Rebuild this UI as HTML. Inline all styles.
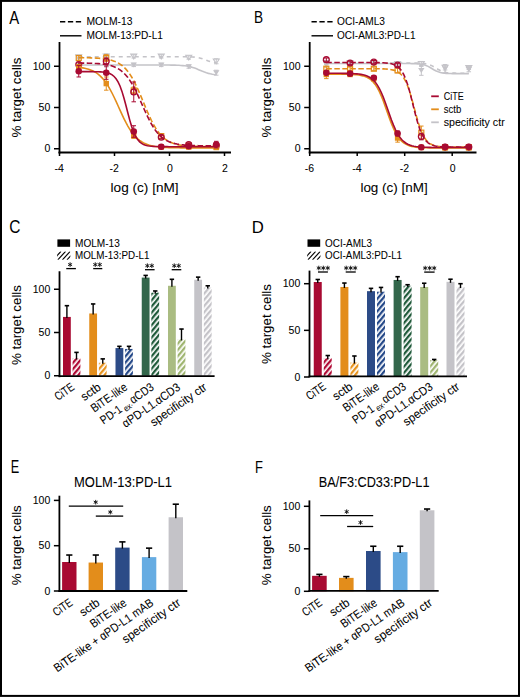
<!DOCTYPE html>
<html><head><meta charset="utf-8"><title>Figure</title>
<style>html,body{margin:0;padding:0;background:#fff;}svg{display:block;font-family:"Liberation Sans",sans-serif;}text{stroke:#000;stroke-width:0.06px;}</style>
</head><body>
<svg width="520" height="697" viewBox="0 0 520 697" font-family="Liberation Sans, sans-serif"><defs><pattern id="hR" patternUnits="userSpaceOnUse" width="4" height="4" patternTransform="rotate(40)"><rect width="4" height="4" fill="#fff"/><rect width="2.3" height="4" fill="#b00a35"/></pattern><pattern id="hO" patternUnits="userSpaceOnUse" width="4" height="4" patternTransform="rotate(40)"><rect width="4" height="4" fill="#fff"/><rect width="2.3" height="4" fill="#e8941f"/></pattern><pattern id="hB" patternUnits="userSpaceOnUse" width="4" height="4" patternTransform="rotate(40)"><rect width="4" height="4" fill="#fff"/><rect width="2.3" height="4" fill="#244888"/></pattern><pattern id="hD" patternUnits="userSpaceOnUse" width="4" height="4" patternTransform="rotate(40)"><rect width="4" height="4" fill="#fff"/><rect width="2.3" height="4" fill="#1f5a3a"/></pattern><pattern id="hL" patternUnits="userSpaceOnUse" width="4" height="4" patternTransform="rotate(40)"><rect width="4" height="4" fill="#fff"/><rect width="2.3" height="4" fill="#9fb570"/></pattern><pattern id="hG" patternUnits="userSpaceOnUse" width="4" height="4" patternTransform="rotate(40)"><rect width="4" height="4" fill="#fff"/><rect width="2.3" height="4" fill="#c4c3c8"/></pattern><pattern id="hK" patternUnits="userSpaceOnUse" width="4" height="4" patternTransform="rotate(40)"><rect width="4" height="4" fill="#fff"/><rect width="2.3" height="4" fill="#000"/></pattern><clipPath id="cl57"><rect x="57.1" y="251.4" width="13.2" height="8.4"/></clipPath><clipPath id="cl307"><rect x="307.2" y="251.4" width="13.2" height="8.4"/></clipPath></defs><rect x="0" y="0" width="520" height="697" fill="#fff"/>
<!--PL A--><text x="0" y="0" font-size="17.5" style="stroke:none" transform="translate(9.20,23.70) scale(0.852,1.016)" dx="0.00">A</text>
<line x1="60" y1="21.8" x2="81.5" y2="21.8" stroke="#000" stroke-width="1.4" stroke-dasharray="5.3,2.6"/>
<line x1="60" y1="35.8" x2="81.5" y2="35.8" stroke="#000" stroke-width="1.4" />
<text x="86.5" y="25.2" font-size="11" textLength="46" lengthAdjust="spacingAndGlyphs" fill="#000" >MOLM-13</text>
<text x="86.5" y="39.3" font-size="11" textLength="76.5" lengthAdjust="spacingAndGlyphs" fill="#000" >MOLM-13:PD-L1</text>
<line x1="59.5" y1="42" x2="59.5" y2="153.4" stroke="#000" stroke-width="1.8" />
<line x1="54.0" y1="66.25" x2="59.5" y2="66.25" stroke="#000" stroke-width="1.5" />
<text x="50.3" y="69.85" font-size="10.5" text-anchor="end" fill="#000" >100</text>
<line x1="54.0" y1="107.5" x2="59.5" y2="107.5" stroke="#000" stroke-width="1.5" />
<text x="50.3" y="111.1" font-size="10.5" text-anchor="end" fill="#000" >50</text>
<line x1="54.0" y1="148.75" x2="59.5" y2="148.75" stroke="#000" stroke-width="1.5" />
<text x="50.3" y="152.35" font-size="10.5" text-anchor="end" fill="#000" >0</text>
<line x1="58.6" y1="152.5" x2="231" y2="152.5" stroke="#000" stroke-width="1.8" />
<line x1="59.5" y1="152" x2="59.5" y2="156" stroke="#000" stroke-width="1.5" />
<text x="59.2" y="171.8" font-size="10.5" text-anchor="middle" fill="#000" >-4</text>
<line x1="114.5" y1="152" x2="114.5" y2="156" stroke="#000" stroke-width="1.5" />
<text x="114.2" y="171.8" font-size="10.5" text-anchor="middle" fill="#000" >-2</text>
<line x1="169.5" y1="152" x2="169.5" y2="156" stroke="#000" stroke-width="1.5" />
<text x="170.0" y="171.8" font-size="10.5" text-anchor="middle" fill="#000" >0</text>
<line x1="224.5" y1="152" x2="224.5" y2="156" stroke="#000" stroke-width="1.5" />
<text x="225.0" y="171.8" font-size="10.5" text-anchor="middle" fill="#000" >2</text>
<text x="110.6" y="192" font-size="13.5" textLength="68" lengthAdjust="spacingAndGlyphs" fill="#000" >log (c) [nM]</text>
<text x="0" y="0" font-size="13.5" text-anchor="middle" textLength="80" lengthAdjust="spacingAndGlyphs" fill="#000" transform="translate(20.6,97.5) rotate(-90)">% target cells</text>
<polyline points="78.75,56.76 80.71,56.76 82.68,56.76 84.64,56.76 86.61,56.76 88.57,56.76 90.54,56.76 92.50,56.76 94.46,56.76 96.43,56.76 98.39,56.76 100.36,56.76 102.32,56.76 104.29,56.76 106.25,56.76 108.21,56.76 110.18,56.76 112.14,56.76 114.11,56.76 116.07,56.76 118.04,56.76 120.00,56.76 121.96,56.76 123.93,56.76 125.89,56.76 127.86,56.76 129.82,56.76 131.79,56.76 133.75,56.76 135.71,56.76 137.68,56.76 139.64,56.76 141.61,56.76 143.57,56.76 145.54,56.76 147.50,56.76 149.46,56.76 151.43,56.76 153.39,56.76 155.36,56.76 157.32,56.76 159.29,56.76 161.25,56.76 163.21,56.76 165.18,56.76 167.14,56.76 169.11,56.76 171.07,56.76 173.04,56.76 175.00,56.77 176.96,56.77 178.93,56.77 180.89,56.78 182.86,56.78 184.82,56.80 186.79,56.82 188.75,56.86 190.71,56.92 192.68,57.01 194.64,57.17 196.61,57.40 198.57,57.74 200.54,58.21 202.50,58.83 204.46,59.55 206.43,60.31 208.39,61.02 210.36,61.61 212.32,62.05 214.29,62.37 216.25,62.58" fill="none" stroke="#c4c3c8" stroke-width="1.6" stroke-dasharray="4,4"/>
<line x1="78.75" y1="55.525000000000006" x2="78.75" y2="58.825" stroke="#c4c3c8" stroke-width="1.0" />
<line x1="76.5" y1="55.525000000000006" x2="81.0" y2="55.525000000000006" stroke="#c4c3c8" stroke-width="1.0" />
<line x1="76.5" y1="58.825" x2="81.0" y2="58.825" stroke="#c4c3c8" stroke-width="1.0" />
<line x1="106.25" y1="53.875" x2="106.25" y2="58.825" stroke="#c4c3c8" stroke-width="1.0" />
<line x1="104.0" y1="53.875" x2="108.5" y2="53.875" stroke="#c4c3c8" stroke-width="1.0" />
<line x1="104.0" y1="58.825" x2="108.5" y2="58.825" stroke="#c4c3c8" stroke-width="1.0" />
<line x1="133.75" y1="54.7" x2="133.75" y2="58.0" stroke="#c4c3c8" stroke-width="1.0" />
<line x1="131.5" y1="54.7" x2="136.0" y2="54.7" stroke="#c4c3c8" stroke-width="1.0" />
<line x1="131.5" y1="58.0" x2="136.0" y2="58.0" stroke="#c4c3c8" stroke-width="1.0" />
<line x1="161.25" y1="54.7" x2="161.25" y2="58.0" stroke="#c4c3c8" stroke-width="1.0" />
<line x1="159.0" y1="54.7" x2="163.5" y2="54.7" stroke="#c4c3c8" stroke-width="1.0" />
<line x1="159.0" y1="58.0" x2="163.5" y2="58.0" stroke="#c4c3c8" stroke-width="1.0" />
<line x1="188.75" y1="55.855000000000004" x2="188.75" y2="59.155000000000015" stroke="#c4c3c8" stroke-width="1.0" />
<line x1="186.5" y1="55.855000000000004" x2="191.0" y2="55.855000000000004" stroke="#c4c3c8" stroke-width="1.0" />
<line x1="186.5" y1="59.155000000000015" x2="191.0" y2="59.155000000000015" stroke="#c4c3c8" stroke-width="1.0" />
<line x1="216.25" y1="58.825" x2="216.25" y2="63.775000000000006" stroke="#c4c3c8" stroke-width="1.0" />
<line x1="214.0" y1="58.825" x2="218.5" y2="58.825" stroke="#c4c3c8" stroke-width="1.0" />
<line x1="214.0" y1="63.775000000000006" x2="218.5" y2="63.775000000000006" stroke="#c4c3c8" stroke-width="1.0" />
<path d="M75.75,54.88h6l-3,4.8z" fill="none" stroke="#c4c3c8" stroke-width="1.1"/>
<path d="M103.25,54.05h6l-3,4.8z" fill="none" stroke="#c4c3c8" stroke-width="1.1"/>
<path d="M130.75,54.05h6l-3,4.8z" fill="none" stroke="#c4c3c8" stroke-width="1.1"/>
<path d="M158.25,54.05h6l-3,4.8z" fill="none" stroke="#c4c3c8" stroke-width="1.1"/>
<path d="M185.75,55.21h6l-3,4.8z" fill="none" stroke="#c4c3c8" stroke-width="1.1"/>
<path d="M213.25,59.00h6l-3,4.8z" fill="none" stroke="#c4c3c8" stroke-width="1.1"/>
<polyline points="78.75,65.01 80.71,65.01 82.68,65.01 84.64,65.01 86.61,65.01 88.57,65.01 90.54,65.01 92.50,65.01 94.46,65.01 96.43,65.01 98.39,65.01 100.36,65.01 102.32,65.01 104.29,65.01 106.25,65.01 108.21,65.01 110.18,65.01 112.14,65.01 114.11,65.01 116.07,65.01 118.04,65.01 120.00,65.01 121.96,65.01 123.93,65.01 125.89,65.01 127.86,65.01 129.82,65.01 131.79,65.01 133.75,65.01 135.71,65.01 137.68,65.01 139.64,65.01 141.61,65.01 143.57,65.01 145.54,65.01 147.50,65.01 149.46,65.01 151.43,65.02 153.39,65.02 155.36,65.02 157.32,65.02 159.29,65.02 161.25,65.03 163.21,65.04 165.18,65.04 167.14,65.06 169.11,65.07 171.07,65.10 173.04,65.13 175.00,65.17 176.96,65.23 178.93,65.32 180.89,65.43 182.86,65.59 184.82,65.79 186.79,66.07 188.75,66.42 190.71,66.87 192.68,67.43 194.64,68.09 196.61,68.84 198.57,69.66 200.54,70.51 202.50,71.34 204.46,72.10 206.43,72.78 208.39,73.36 210.36,73.83 212.32,74.21 214.29,74.49 216.25,74.71" fill="none" stroke="#c4c3c8" stroke-width="1.6"/>
<line x1="78.75" y1="63.775000000000006" x2="78.75" y2="67.075" stroke="#c4c3c8" stroke-width="1.0" />
<line x1="76.5" y1="63.775000000000006" x2="81.0" y2="63.775000000000006" stroke="#c4c3c8" stroke-width="1.0" />
<line x1="76.5" y1="67.075" x2="81.0" y2="67.075" stroke="#c4c3c8" stroke-width="1.0" />
<line x1="106.25" y1="63.775000000000006" x2="106.25" y2="67.075" stroke="#c4c3c8" stroke-width="1.0" />
<line x1="104.0" y1="63.775000000000006" x2="108.5" y2="63.775000000000006" stroke="#c4c3c8" stroke-width="1.0" />
<line x1="104.0" y1="67.075" x2="108.5" y2="67.075" stroke="#c4c3c8" stroke-width="1.0" />
<line x1="133.75" y1="63.280000000000015" x2="133.75" y2="66.58000000000001" stroke="#c4c3c8" stroke-width="1.0" />
<line x1="131.5" y1="63.280000000000015" x2="136.0" y2="63.280000000000015" stroke="#c4c3c8" stroke-width="1.0" />
<line x1="131.5" y1="66.58000000000001" x2="136.0" y2="66.58000000000001" stroke="#c4c3c8" stroke-width="1.0" />
<line x1="161.25" y1="63.280000000000015" x2="161.25" y2="66.58000000000001" stroke="#c4c3c8" stroke-width="1.0" />
<line x1="159.0" y1="63.280000000000015" x2="163.5" y2="63.280000000000015" stroke="#c4c3c8" stroke-width="1.0" />
<line x1="159.0" y1="66.58000000000001" x2="163.5" y2="66.58000000000001" stroke="#c4c3c8" stroke-width="1.0" />
<line x1="188.75" y1="64.93" x2="188.75" y2="68.23" stroke="#c4c3c8" stroke-width="1.0" />
<line x1="186.5" y1="64.93" x2="191.0" y2="64.93" stroke="#c4c3c8" stroke-width="1.0" />
<line x1="186.5" y1="68.23" x2="191.0" y2="68.23" stroke="#c4c3c8" stroke-width="1.0" />
<line x1="216.25" y1="70.21000000000001" x2="216.25" y2="75.16" stroke="#c4c3c8" stroke-width="1.0" />
<line x1="214.0" y1="70.21000000000001" x2="218.5" y2="70.21000000000001" stroke="#c4c3c8" stroke-width="1.0" />
<line x1="214.0" y1="75.16" x2="218.5" y2="75.16" stroke="#c4c3c8" stroke-width="1.0" />
<path d="M75.55,63.03h6.4l-3.2,5z" fill="#c4c3c8"/>
<path d="M103.05,63.03h6.4l-3.2,5z" fill="#c4c3c8"/>
<path d="M130.55,62.53h6.4l-3.2,5z" fill="#c4c3c8"/>
<path d="M158.05,62.53h6.4l-3.2,5z" fill="#c4c3c8"/>
<path d="M185.55,64.18h6.4l-3.2,5z" fill="#c4c3c8"/>
<path d="M213.05,70.28h6.4l-3.2,5z" fill="#c4c3c8"/>
<polyline points="78.75,57.67 80.71,57.68 82.68,57.71 84.64,57.74 86.61,57.77 88.57,57.82 90.54,57.87 92.50,57.94 94.46,58.02 96.43,58.12 98.39,58.25 100.36,58.40 102.32,58.60 104.29,58.83 106.25,59.13 108.21,59.49 110.18,59.93 112.14,60.47 114.11,61.13 116.07,61.93 118.04,62.90 120.00,64.07 121.96,65.48 123.93,67.16 125.89,69.15 127.86,71.48 129.82,74.17 131.79,77.25 133.75,80.72 135.71,84.57 137.68,88.75 139.64,93.21 141.61,97.86 143.57,102.61 145.54,107.35 147.50,111.97 149.46,116.38 151.43,120.50 153.39,124.28 155.36,127.67 157.32,130.67 159.29,133.29 161.25,135.55 163.21,137.47 165.18,139.09 167.14,140.45 169.11,141.58 171.07,142.52 173.04,143.29 175.00,143.93 176.96,144.44 178.93,144.87 180.89,145.21 182.86,145.49 184.82,145.72 186.79,145.90 188.75,146.05 190.71,146.18 192.68,146.27 194.64,146.35 196.61,146.42 198.57,146.47 200.54,146.51 202.50,146.54 204.46,146.57 206.43,146.59 208.39,146.61 210.36,146.63 212.32,146.64 214.29,146.65 216.25,146.66" fill="none" stroke="#e38d1b" stroke-width="1.6" stroke-dasharray="5.5,2.5"/>
<line x1="78.75" y1="55.525000000000006" x2="78.75" y2="60.47500000000001" stroke="#e38d1b" stroke-width="1.0" />
<line x1="76.5" y1="55.525000000000006" x2="81.0" y2="55.525000000000006" stroke="#e38d1b" stroke-width="1.0" />
<line x1="76.5" y1="60.47500000000001" x2="81.0" y2="60.47500000000001" stroke="#e38d1b" stroke-width="1.0" />
<line x1="106.25" y1="54.7" x2="106.25" y2="61.30000000000001" stroke="#e38d1b" stroke-width="1.0" />
<line x1="104.0" y1="54.7" x2="108.5" y2="54.7" stroke="#e38d1b" stroke-width="1.0" />
<line x1="104.0" y1="61.30000000000001" x2="108.5" y2="61.30000000000001" stroke="#e38d1b" stroke-width="1.0" />
<line x1="133.75" y1="87.1225" x2="133.75" y2="93.7225" stroke="#e38d1b" stroke-width="1.0" />
<line x1="131.5" y1="87.1225" x2="136.0" y2="87.1225" stroke="#e38d1b" stroke-width="1.0" />
<line x1="131.5" y1="93.7225" x2="136.0" y2="93.7225" stroke="#e38d1b" stroke-width="1.0" />
<line x1="161.25" y1="133.6525" x2="161.25" y2="138.6025" stroke="#e38d1b" stroke-width="1.0" />
<line x1="159.0" y1="133.6525" x2="163.5" y2="133.6525" stroke="#e38d1b" stroke-width="1.0" />
<line x1="159.0" y1="138.6025" x2="163.5" y2="138.6025" stroke="#e38d1b" stroke-width="1.0" />
<line x1="188.75" y1="143.8" x2="188.75" y2="147.1" stroke="#e38d1b" stroke-width="1.0" />
<line x1="186.5" y1="143.8" x2="191.0" y2="143.8" stroke="#e38d1b" stroke-width="1.0" />
<line x1="186.5" y1="147.1" x2="191.0" y2="147.1" stroke="#e38d1b" stroke-width="1.0" />
<line x1="216.25" y1="144.625" x2="216.25" y2="147.925" stroke="#e38d1b" stroke-width="1.0" />
<line x1="214.0" y1="144.625" x2="218.5" y2="144.625" stroke="#e38d1b" stroke-width="1.0" />
<line x1="214.0" y1="147.925" x2="218.5" y2="147.925" stroke="#e38d1b" stroke-width="1.0" />
<rect x="76.25" y="55.50" width="5" height="5" fill="none" stroke="#e38d1b" stroke-width="1.2"/>
<rect x="103.75" y="55.50" width="5" height="5" fill="none" stroke="#e38d1b" stroke-width="1.2"/>
<rect x="131.25" y="87.92" width="5" height="5" fill="none" stroke="#e38d1b" stroke-width="1.2"/>
<rect x="158.75" y="133.63" width="5" height="5" fill="none" stroke="#e38d1b" stroke-width="1.2"/>
<rect x="186.25" y="142.95" width="5" height="5" fill="none" stroke="#e38d1b" stroke-width="1.2"/>
<rect x="213.75" y="143.78" width="5" height="5" fill="none" stroke="#e38d1b" stroke-width="1.2"/>
<polyline points="78.75,63.03 80.71,63.05 82.68,63.08 84.64,63.11 86.61,63.15 88.57,63.20 90.54,63.25 92.50,63.33 94.46,63.42 96.43,63.53 98.39,63.66 100.36,63.83 102.32,64.04 104.29,64.29 106.25,64.61 108.21,64.99 110.18,65.47 112.14,66.05 114.11,66.75 116.07,67.60 118.04,68.64 120.00,69.88 121.96,71.36 123.93,73.12 125.89,75.19 127.86,77.59 129.82,80.35 131.79,83.47 133.75,86.95 135.71,90.75 137.68,94.83 139.64,99.12 141.61,103.52 143.57,107.94 145.54,112.29 147.50,116.46 149.46,120.38 151.43,123.99 153.39,127.26 155.36,130.16 157.32,132.70 159.29,134.90 161.25,136.78 163.21,138.37 165.18,139.71 167.14,140.82 169.11,141.74 171.07,142.50 173.04,143.13 175.00,143.64 176.96,144.06 178.93,144.40 180.89,144.68 182.86,144.90 184.82,145.09 186.79,145.23 188.75,145.35 190.71,145.45 192.68,145.53 194.64,145.59 196.61,145.65 198.57,145.69 200.54,145.72 202.50,145.75 204.46,145.77 206.43,145.79 208.39,145.80 210.36,145.81 212.32,145.82 214.29,145.83 216.25,145.84" fill="none" stroke="#a80a32" stroke-width="1.6" stroke-dasharray="5.5,2.5"/>
<line x1="78.75" y1="62.125" x2="78.75" y2="67.075" stroke="#a80a32" stroke-width="1.0" />
<line x1="76.5" y1="62.125" x2="81.0" y2="62.125" stroke="#a80a32" stroke-width="1.0" />
<line x1="76.5" y1="67.075" x2="81.0" y2="67.075" stroke="#a80a32" stroke-width="1.0" />
<line x1="106.25" y1="58.0" x2="106.25" y2="64.60000000000001" stroke="#a80a32" stroke-width="1.0" />
<line x1="104.0" y1="58.0" x2="108.5" y2="58.0" stroke="#a80a32" stroke-width="1.0" />
<line x1="104.0" y1="64.60000000000001" x2="108.5" y2="64.60000000000001" stroke="#a80a32" stroke-width="1.0" />
<line x1="133.75" y1="82.0075" x2="133.75" y2="101.8075" stroke="#a80a32" stroke-width="1.0" />
<line x1="131.5" y1="82.0075" x2="136.0" y2="82.0075" stroke="#a80a32" stroke-width="1.0" />
<line x1="131.5" y1="101.8075" x2="136.0" y2="101.8075" stroke="#a80a32" stroke-width="1.0" />
<line x1="161.25" y1="135.6325" x2="161.25" y2="138.9325" stroke="#a80a32" stroke-width="1.0" />
<line x1="159.0" y1="135.6325" x2="163.5" y2="135.6325" stroke="#a80a32" stroke-width="1.0" />
<line x1="159.0" y1="138.9325" x2="163.5" y2="138.9325" stroke="#a80a32" stroke-width="1.0" />
<line x1="188.75" y1="142.975" x2="188.75" y2="146.275" stroke="#a80a32" stroke-width="1.0" />
<line x1="186.5" y1="142.975" x2="191.0" y2="142.975" stroke="#a80a32" stroke-width="1.0" />
<line x1="186.5" y1="146.275" x2="191.0" y2="146.275" stroke="#a80a32" stroke-width="1.0" />
<line x1="216.25" y1="143.8" x2="216.25" y2="147.1" stroke="#a80a32" stroke-width="1.0" />
<line x1="214.0" y1="143.8" x2="218.5" y2="143.8" stroke="#a80a32" stroke-width="1.0" />
<line x1="214.0" y1="147.1" x2="218.5" y2="147.1" stroke="#a80a32" stroke-width="1.0" />
<circle cx="78.75" cy="64.60" r="2.9" fill="none" stroke="#a80a32" stroke-width="1.3"/>
<circle cx="106.25" cy="61.30" r="2.9" fill="none" stroke="#a80a32" stroke-width="1.3"/>
<circle cx="133.75" cy="91.91" r="2.9" fill="none" stroke="#a80a32" stroke-width="1.3"/>
<circle cx="161.25" cy="137.28" r="2.9" fill="none" stroke="#a80a32" stroke-width="1.3"/>
<circle cx="188.75" cy="144.62" r="2.9" fill="none" stroke="#a80a32" stroke-width="1.3"/>
<circle cx="216.25" cy="145.45" r="2.9" fill="none" stroke="#a80a32" stroke-width="1.3"/>
<polyline points="78.75,67.30 80.71,67.55 82.68,67.85 84.64,68.22 86.61,68.68 88.57,69.24 90.54,69.92 92.50,70.74 94.46,71.74 96.43,72.94 98.39,74.38 100.36,76.09 102.32,78.09 104.29,80.42 106.25,83.10 108.21,86.14 110.18,89.53 112.14,93.25 114.11,97.24 116.07,101.45 118.04,105.78 120.00,110.14 121.96,114.43 123.93,118.56 125.89,122.45 127.86,126.04 129.82,129.29 131.79,132.19 133.75,134.73 135.71,136.92 137.68,138.81 139.64,140.40 141.61,141.74 143.57,142.86 145.54,143.78 147.50,144.55 149.46,145.17 151.43,145.69 153.39,146.11 155.36,146.45 157.32,146.73 159.29,146.96 161.25,147.14 163.21,147.29 165.18,147.41 167.14,147.51 169.11,147.59 171.07,147.65 173.04,147.71 175.00,147.75 176.96,147.78 178.93,147.81 180.89,147.83 182.86,147.85 184.82,147.86 186.79,147.88 188.75,147.89 190.71,147.89 192.68,147.90 194.64,147.90 196.61,147.91 198.57,147.91 200.54,147.91 202.50,147.92 204.46,147.92 206.43,147.92 208.39,147.92 210.36,147.92 212.32,147.92 214.29,147.92 216.25,147.92" fill="none" stroke="#e38d1b" stroke-width="1.6"/>
<line x1="78.75" y1="64.60000000000001" x2="78.75" y2="69.55000000000001" stroke="#e38d1b" stroke-width="1.0" />
<line x1="76.5" y1="64.60000000000001" x2="81.0" y2="64.60000000000001" stroke="#e38d1b" stroke-width="1.0" />
<line x1="76.5" y1="69.55000000000001" x2="81.0" y2="69.55000000000001" stroke="#e38d1b" stroke-width="1.0" />
<line x1="106.25" y1="76.97500000000001" x2="106.25" y2="90.17500000000001" stroke="#e38d1b" stroke-width="1.0" />
<line x1="104.0" y1="76.97500000000001" x2="108.5" y2="76.97500000000001" stroke="#e38d1b" stroke-width="1.0" />
<line x1="104.0" y1="90.17500000000001" x2="108.5" y2="90.17500000000001" stroke="#e38d1b" stroke-width="1.0" />
<line x1="133.75" y1="133.3225" x2="133.75" y2="138.2725" stroke="#e38d1b" stroke-width="1.0" />
<line x1="131.5" y1="133.3225" x2="136.0" y2="133.3225" stroke="#e38d1b" stroke-width="1.0" />
<line x1="131.5" y1="138.2725" x2="136.0" y2="138.2725" stroke="#e38d1b" stroke-width="1.0" />
<line x1="161.25" y1="146.275" x2="161.25" y2="147.925" stroke="#e38d1b" stroke-width="1.0" />
<line x1="159.0" y1="146.275" x2="163.5" y2="146.275" stroke="#e38d1b" stroke-width="1.0" />
<line x1="159.0" y1="147.925" x2="163.5" y2="147.925" stroke="#e38d1b" stroke-width="1.0" />
<line x1="188.75" y1="146.275" x2="188.75" y2="147.925" stroke="#e38d1b" stroke-width="1.0" />
<line x1="186.5" y1="146.275" x2="191.0" y2="146.275" stroke="#e38d1b" stroke-width="1.0" />
<line x1="186.5" y1="147.925" x2="191.0" y2="147.925" stroke="#e38d1b" stroke-width="1.0" />
<line x1="216.25" y1="146.6875" x2="216.25" y2="148.3375" stroke="#e38d1b" stroke-width="1.0" />
<line x1="214.0" y1="146.6875" x2="218.5" y2="146.6875" stroke="#e38d1b" stroke-width="1.0" />
<line x1="214.0" y1="148.3375" x2="218.5" y2="148.3375" stroke="#e38d1b" stroke-width="1.0" />
<rect x="76.05" y="64.38" width="5.4" height="5.4" fill="#e38d1b"/>
<rect x="103.55" y="80.88" width="5.4" height="5.4" fill="#e38d1b"/>
<rect x="131.05" y="133.10" width="5.4" height="5.4" fill="#e38d1b"/>
<rect x="158.55" y="144.40" width="5.4" height="5.4" fill="#e38d1b"/>
<rect x="186.05" y="144.40" width="5.4" height="5.4" fill="#e38d1b"/>
<rect x="213.55" y="144.81" width="5.4" height="5.4" fill="#e38d1b"/>
<polyline points="78.75,71.62 80.71,71.62 82.68,71.62 84.64,71.62 86.61,71.63 88.57,71.64 90.54,71.65 92.50,71.67 94.46,71.70 96.43,71.74 98.39,71.81 100.36,71.90 102.32,72.05 104.29,72.27 106.25,72.60 108.21,73.09 110.18,73.82 112.14,74.90 114.11,76.46 116.07,78.70 118.04,81.81 120.00,86.00 121.96,91.39 123.93,97.93 125.89,105.30 127.86,113.00 129.82,120.37 131.79,126.91 133.75,132.30 135.71,136.49 137.68,139.60 139.64,141.84 141.61,143.40 143.57,144.48 145.54,145.21 147.50,145.70 149.46,146.03 151.43,146.25 153.39,146.40 155.36,146.49 157.32,146.56 159.29,146.60 161.25,146.63 163.21,146.65 165.18,146.66 167.14,146.67 169.11,146.68 171.07,146.68 173.04,146.68 175.00,146.68 176.96,146.69 178.93,146.69 180.89,146.69 182.86,146.69 184.82,146.69 186.79,146.69 188.75,146.69 190.71,146.69 192.68,146.69 194.64,146.69 196.61,146.69 198.57,146.69 200.54,146.69 202.50,146.69 204.46,146.69 206.43,146.69 208.39,146.69 210.36,146.69 212.32,146.69 214.29,146.69 216.25,146.69" fill="none" stroke="#a80a32" stroke-width="1.6"/>
<line x1="78.75" y1="65.42500000000001" x2="78.75" y2="76.97500000000001" stroke="#a80a32" stroke-width="1.0" />
<line x1="76.5" y1="65.42500000000001" x2="81.0" y2="65.42500000000001" stroke="#a80a32" stroke-width="1.0" />
<line x1="76.5" y1="76.97500000000001" x2="81.0" y2="76.97500000000001" stroke="#a80a32" stroke-width="1.0" />
<line x1="106.25" y1="66.08500000000001" x2="106.25" y2="79.285" stroke="#a80a32" stroke-width="1.0" />
<line x1="104.0" y1="66.08500000000001" x2="108.5" y2="66.08500000000001" stroke="#a80a32" stroke-width="1.0" />
<line x1="104.0" y1="79.285" x2="108.5" y2="79.285" stroke="#a80a32" stroke-width="1.0" />
<line x1="133.75" y1="125.7325" x2="133.75" y2="137.2825" stroke="#a80a32" stroke-width="1.0" />
<line x1="131.5" y1="125.7325" x2="136.0" y2="125.7325" stroke="#a80a32" stroke-width="1.0" />
<line x1="131.5" y1="137.2825" x2="136.0" y2="137.2825" stroke="#a80a32" stroke-width="1.0" />
<line x1="161.25" y1="145.945" x2="161.25" y2="147.595" stroke="#a80a32" stroke-width="1.0" />
<line x1="159.0" y1="145.945" x2="163.5" y2="145.945" stroke="#a80a32" stroke-width="1.0" />
<line x1="159.0" y1="147.595" x2="163.5" y2="147.595" stroke="#a80a32" stroke-width="1.0" />
<line x1="188.75" y1="144.625" x2="188.75" y2="147.925" stroke="#a80a32" stroke-width="1.0" />
<line x1="186.5" y1="144.625" x2="191.0" y2="144.625" stroke="#a80a32" stroke-width="1.0" />
<line x1="186.5" y1="147.925" x2="191.0" y2="147.925" stroke="#a80a32" stroke-width="1.0" />
<line x1="216.25" y1="141.325" x2="216.25" y2="147.925" stroke="#a80a32" stroke-width="1.0" />
<line x1="214.0" y1="141.325" x2="218.5" y2="141.325" stroke="#a80a32" stroke-width="1.0" />
<line x1="214.0" y1="147.925" x2="218.5" y2="147.925" stroke="#a80a32" stroke-width="1.0" />
<circle cx="78.75" cy="71.20" r="3.3" fill="#a80a32"/>
<circle cx="106.25" cy="72.69" r="3.3" fill="#a80a32"/>
<circle cx="133.75" cy="131.51" r="3.3" fill="#a80a32"/>
<circle cx="161.25" cy="146.77" r="3.3" fill="#a80a32"/>
<circle cx="188.75" cy="146.28" r="3.3" fill="#a80a32"/>
<circle cx="216.25" cy="144.62" r="3.3" fill="#a80a32"/>
<!--PL B--><text x="0" y="0" font-size="17.5" style="stroke:none" transform="translate(255.10,23.40) scale(0.778,0.992)" dx="-1.50">B</text>
<line x1="311.5" y1="21.8" x2="333" y2="21.8" stroke="#000" stroke-width="1.4" stroke-dasharray="5.3,2.6"/>
<line x1="311.5" y1="35.8" x2="333" y2="35.8" stroke="#000" stroke-width="1.4" />
<text x="337" y="25.2" font-size="11" textLength="48" lengthAdjust="spacingAndGlyphs" fill="#000" >OCI-AML3</text>
<text x="337" y="39.3" font-size="11" textLength="78.5" lengthAdjust="spacingAndGlyphs" fill="#000" >OCI-AML3:PD-L1</text>
<line x1="309.7" y1="42" x2="309.7" y2="153.4" stroke="#000" stroke-width="1.8" />
<line x1="304.2" y1="66.25" x2="309.7" y2="66.25" stroke="#000" stroke-width="1.5" />
<text x="300.5" y="69.85" font-size="10.5" text-anchor="end" fill="#000" >100</text>
<line x1="304.2" y1="107.5" x2="309.7" y2="107.5" stroke="#000" stroke-width="1.5" />
<text x="300.5" y="111.1" font-size="10.5" text-anchor="end" fill="#000" >50</text>
<line x1="304.2" y1="148.75" x2="309.7" y2="148.75" stroke="#000" stroke-width="1.5" />
<text x="300.5" y="152.35" font-size="10.5" text-anchor="end" fill="#000" >0</text>
<line x1="308.8" y1="152.5" x2="476.5" y2="152.5" stroke="#000" stroke-width="1.8" />
<line x1="309.7" y1="152" x2="309.7" y2="156" stroke="#000" stroke-width="1.5" />
<text x="309.4" y="171.8" font-size="10.5" text-anchor="middle" fill="#000" >-6</text>
<line x1="357.2" y1="152" x2="357.2" y2="156" stroke="#000" stroke-width="1.5" />
<text x="356.9" y="171.8" font-size="10.5" text-anchor="middle" fill="#000" >-4</text>
<line x1="404.7" y1="152" x2="404.7" y2="156" stroke="#000" stroke-width="1.5" />
<text x="404.4" y="171.8" font-size="10.5" text-anchor="middle" fill="#000" >-2</text>
<line x1="452.2" y1="152" x2="452.2" y2="156" stroke="#000" stroke-width="1.5" />
<text x="452.7" y="171.8" font-size="10.5" text-anchor="middle" fill="#000" >0</text>
<text x="360.4" y="192" font-size="13.5" textLength="67.3" lengthAdjust="spacingAndGlyphs" fill="#000" >log (c) [nM]</text>
<text x="0" y="0" font-size="13.5" text-anchor="middle" textLength="80" lengthAdjust="spacingAndGlyphs" fill="#000" transform="translate(270.6,97.5) rotate(-90)">% target cells</text>
<polyline points="326.32,62.95 328.36,62.95 330.40,62.95 332.43,62.95 334.47,62.95 336.50,62.95 338.54,62.95 340.57,62.95 342.61,62.95 344.65,62.95 346.68,62.95 348.72,62.95 350.75,62.95 352.79,62.95 354.82,62.95 356.86,62.95 358.90,62.95 360.93,62.95 362.97,62.95 365.00,62.95 367.04,62.95 369.07,62.95 371.11,62.95 373.15,62.95 375.18,62.95 377.22,62.95 379.25,62.95 381.29,62.95 383.32,62.95 385.36,62.95 387.40,62.95 389.43,62.95 391.47,62.95 393.50,62.95 395.54,62.95 397.57,62.95 399.61,62.95 401.65,62.95 403.68,62.95 405.72,62.96 407.75,62.96 409.79,62.97 411.82,62.98 413.86,63.00 415.90,63.03 417.93,63.08 419.97,63.16 422.00,63.28 424.04,63.48 426.07,63.79 428.11,64.26 430.15,64.94 432.18,65.85 434.22,66.98 436.25,68.23 438.29,69.47 440.32,70.56 442.36,71.43 444.40,72.06 446.43,72.49 448.47,72.78 450.50,72.96 452.54,73.08 454.57,73.15 456.61,73.19 458.65,73.22 460.68,73.24 462.72,73.25 464.75,73.25 466.79,73.26 468.82,73.26" fill="none" stroke="#c4c3c8" stroke-width="1.6" stroke-dasharray="4,4"/>
<line x1="326.325" y1="61.30000000000001" x2="326.325" y2="64.60000000000001" stroke="#c4c3c8" stroke-width="1.0" />
<line x1="324.075" y1="61.30000000000001" x2="328.575" y2="61.30000000000001" stroke="#c4c3c8" stroke-width="1.0" />
<line x1="324.075" y1="64.60000000000001" x2="328.575" y2="64.60000000000001" stroke="#c4c3c8" stroke-width="1.0" />
<line x1="350.075" y1="60.47500000000001" x2="350.075" y2="65.42500000000001" stroke="#c4c3c8" stroke-width="1.0" />
<line x1="347.825" y1="60.47500000000001" x2="352.325" y2="60.47500000000001" stroke="#c4c3c8" stroke-width="1.0" />
<line x1="347.825" y1="65.42500000000001" x2="352.325" y2="65.42500000000001" stroke="#c4c3c8" stroke-width="1.0" />
<line x1="373.825" y1="61.30000000000001" x2="373.825" y2="64.60000000000001" stroke="#c4c3c8" stroke-width="1.0" />
<line x1="371.575" y1="61.30000000000001" x2="376.075" y2="61.30000000000001" stroke="#c4c3c8" stroke-width="1.0" />
<line x1="371.575" y1="64.60000000000001" x2="376.075" y2="64.60000000000001" stroke="#c4c3c8" stroke-width="1.0" />
<line x1="397.575" y1="62.125" x2="397.575" y2="65.42500000000001" stroke="#c4c3c8" stroke-width="1.0" />
<line x1="395.325" y1="62.125" x2="399.825" y2="62.125" stroke="#c4c3c8" stroke-width="1.0" />
<line x1="395.325" y1="65.42500000000001" x2="399.825" y2="65.42500000000001" stroke="#c4c3c8" stroke-width="1.0" />
<line x1="421.325" y1="61.465" x2="421.325" y2="66.415" stroke="#c4c3c8" stroke-width="1.0" />
<line x1="419.075" y1="61.465" x2="423.575" y2="61.465" stroke="#c4c3c8" stroke-width="1.0" />
<line x1="419.075" y1="66.415" x2="423.575" y2="66.415" stroke="#c4c3c8" stroke-width="1.0" />
<line x1="445.075" y1="65.0125" x2="445.075" y2="69.9625" stroke="#c4c3c8" stroke-width="1.0" />
<line x1="442.825" y1="65.0125" x2="447.325" y2="65.0125" stroke="#c4c3c8" stroke-width="1.0" />
<line x1="442.825" y1="69.9625" x2="447.325" y2="69.9625" stroke="#c4c3c8" stroke-width="1.0" />
<line x1="468.825" y1="66.25" x2="468.825" y2="69.55000000000001" stroke="#c4c3c8" stroke-width="1.0" />
<line x1="466.575" y1="66.25" x2="471.075" y2="66.25" stroke="#c4c3c8" stroke-width="1.0" />
<line x1="466.575" y1="69.55000000000001" x2="471.075" y2="69.55000000000001" stroke="#c4c3c8" stroke-width="1.0" />
<path d="M323.32,60.65h6l-3,4.8z" fill="none" stroke="#c4c3c8" stroke-width="1.1"/>
<path d="M347.07,60.65h6l-3,4.8z" fill="none" stroke="#c4c3c8" stroke-width="1.1"/>
<path d="M370.82,60.65h6l-3,4.8z" fill="none" stroke="#c4c3c8" stroke-width="1.1"/>
<path d="M394.57,61.48h6l-3,4.8z" fill="none" stroke="#c4c3c8" stroke-width="1.1"/>
<path d="M418.32,61.64h6l-3,4.8z" fill="none" stroke="#c4c3c8" stroke-width="1.1"/>
<path d="M442.07,65.19h6l-3,4.8z" fill="none" stroke="#c4c3c8" stroke-width="1.1"/>
<path d="M465.82,65.60h6l-3,4.8z" fill="none" stroke="#c4c3c8" stroke-width="1.1"/>
<polyline points="326.32,63.53 328.36,63.53 330.40,63.53 332.43,63.53 334.47,63.53 336.50,63.53 338.54,63.53 340.57,63.53 342.61,63.53 344.65,63.53 346.68,63.53 348.72,63.53 350.75,63.53 352.79,63.53 354.82,63.53 356.86,63.53 358.90,63.53 360.93,63.53 362.97,63.53 365.00,63.53 367.04,63.53 369.07,63.53 371.11,63.53 373.15,63.53 375.18,63.53 377.22,63.53 379.25,63.53 381.29,63.53 383.32,63.53 385.36,63.53 387.40,63.53 389.43,63.53 391.47,63.53 393.50,63.53 395.54,63.53 397.57,63.53 399.61,63.53 401.65,63.53 403.68,63.54 405.72,63.54 407.75,63.56 409.79,63.57 411.82,63.60 413.86,63.65 415.90,63.73 417.93,63.85 419.97,64.05 422.00,64.35 424.04,64.81 426.07,65.47 428.11,66.37 430.15,67.47 432.18,68.71 434.22,69.93 436.25,71.00 438.29,71.86 440.32,72.48 442.36,72.91 444.40,73.19 446.43,73.38 448.47,73.49 450.50,73.56 452.54,73.61 454.57,73.63 456.61,73.65 458.65,73.66 460.68,73.67 462.72,73.67 464.75,73.67 466.79,73.67 468.82,73.67" fill="none" stroke="#c4c3c8" stroke-width="1.6"/>
<line x1="326.325" y1="62.95" x2="326.325" y2="66.25" stroke="#c4c3c8" stroke-width="1.0" />
<line x1="324.075" y1="62.95" x2="328.575" y2="62.95" stroke="#c4c3c8" stroke-width="1.0" />
<line x1="324.075" y1="66.25" x2="328.575" y2="66.25" stroke="#c4c3c8" stroke-width="1.0" />
<line x1="350.075" y1="62.95" x2="350.075" y2="66.25" stroke="#c4c3c8" stroke-width="1.0" />
<line x1="347.825" y1="62.95" x2="352.325" y2="62.95" stroke="#c4c3c8" stroke-width="1.0" />
<line x1="347.825" y1="66.25" x2="352.325" y2="66.25" stroke="#c4c3c8" stroke-width="1.0" />
<line x1="373.825" y1="62.95" x2="373.825" y2="66.25" stroke="#c4c3c8" stroke-width="1.0" />
<line x1="371.575" y1="62.95" x2="376.075" y2="62.95" stroke="#c4c3c8" stroke-width="1.0" />
<line x1="371.575" y1="66.25" x2="376.075" y2="66.25" stroke="#c4c3c8" stroke-width="1.0" />
<line x1="397.575" y1="62.95" x2="397.575" y2="66.25" stroke="#c4c3c8" stroke-width="1.0" />
<line x1="395.325" y1="62.95" x2="399.825" y2="62.95" stroke="#c4c3c8" stroke-width="1.0" />
<line x1="395.325" y1="66.25" x2="399.825" y2="66.25" stroke="#c4c3c8" stroke-width="1.0" />
<line x1="421.325" y1="65.42500000000001" x2="421.325" y2="75.325" stroke="#c4c3c8" stroke-width="1.0" />
<line x1="419.075" y1="65.42500000000001" x2="423.575" y2="65.42500000000001" stroke="#c4c3c8" stroke-width="1.0" />
<line x1="419.075" y1="75.325" x2="423.575" y2="75.325" stroke="#c4c3c8" stroke-width="1.0" />
<line x1="445.075" y1="64.60000000000001" x2="445.075" y2="72.85000000000001" stroke="#c4c3c8" stroke-width="1.0" />
<line x1="442.825" y1="64.60000000000001" x2="447.325" y2="64.60000000000001" stroke="#c4c3c8" stroke-width="1.0" />
<line x1="442.825" y1="72.85000000000001" x2="447.325" y2="72.85000000000001" stroke="#c4c3c8" stroke-width="1.0" />
<line x1="468.825" y1="66.8275" x2="468.825" y2="71.7775" stroke="#c4c3c8" stroke-width="1.0" />
<line x1="466.575" y1="66.8275" x2="471.075" y2="66.8275" stroke="#c4c3c8" stroke-width="1.0" />
<line x1="466.575" y1="71.7775" x2="471.075" y2="71.7775" stroke="#c4c3c8" stroke-width="1.0" />
<path d="M323.12,62.20h6.4l-3.2,5z" fill="#c4c3c8"/>
<path d="M346.88,62.20h6.4l-3.2,5z" fill="#c4c3c8"/>
<path d="M370.62,62.20h6.4l-3.2,5z" fill="#c4c3c8"/>
<path d="M394.38,62.20h6.4l-3.2,5z" fill="#c4c3c8"/>
<path d="M418.12,67.97h6.4l-3.2,5z" fill="#c4c3c8"/>
<path d="M441.88,66.33h6.4l-3.2,5z" fill="#c4c3c8"/>
<path d="M465.62,66.90h6.4l-3.2,5z" fill="#c4c3c8"/>
<polyline points="326.32,68.73 328.36,68.73 330.40,68.73 332.43,68.73 334.47,68.73 336.50,68.73 338.54,68.73 340.57,68.73 342.61,68.73 344.65,68.73 346.68,68.73 348.72,68.73 350.75,68.73 352.79,68.73 354.82,68.73 356.86,68.73 358.90,68.73 360.93,68.73 362.97,68.73 365.00,68.73 367.04,68.73 369.07,68.74 371.11,68.74 373.15,68.75 375.18,68.77 377.22,68.79 379.25,68.81 381.29,68.86 383.32,68.92 385.36,69.02 387.40,69.16 389.43,69.36 391.47,69.67 393.50,70.12 395.54,70.77 397.57,71.73 399.61,73.10 401.65,75.04 403.68,77.75 405.72,81.41 407.75,86.18 409.79,92.11 411.82,99.05 413.86,106.62 415.90,114.30 417.93,121.50 419.97,127.80 422.00,132.96 424.04,136.97 426.07,139.98 428.11,142.15 430.15,143.70 432.18,144.77 434.22,145.52 436.25,146.03 438.29,146.37 440.32,146.61 442.36,146.77 444.40,146.88 446.43,146.95 448.47,147.00 450.50,147.03 452.54,147.05 454.57,147.07 456.61,147.08 458.65,147.09 460.68,147.09 462.72,147.09 464.75,147.10 466.79,147.10 468.82,147.10" fill="none" stroke="#e38d1b" stroke-width="1.6" stroke-dasharray="5.5,2.5"/>
<line x1="326.325" y1="67.075" x2="326.325" y2="70.375" stroke="#e38d1b" stroke-width="1.0" />
<line x1="324.075" y1="67.075" x2="328.575" y2="67.075" stroke="#e38d1b" stroke-width="1.0" />
<line x1="324.075" y1="70.375" x2="328.575" y2="70.375" stroke="#e38d1b" stroke-width="1.0" />
<line x1="350.075" y1="67.075" x2="350.075" y2="70.375" stroke="#e38d1b" stroke-width="1.0" />
<line x1="347.825" y1="67.075" x2="352.325" y2="67.075" stroke="#e38d1b" stroke-width="1.0" />
<line x1="347.825" y1="70.375" x2="352.325" y2="70.375" stroke="#e38d1b" stroke-width="1.0" />
<line x1="373.825" y1="67.075" x2="373.825" y2="70.375" stroke="#e38d1b" stroke-width="1.0" />
<line x1="371.575" y1="67.075" x2="376.075" y2="67.075" stroke="#e38d1b" stroke-width="1.0" />
<line x1="371.575" y1="70.375" x2="376.075" y2="70.375" stroke="#e38d1b" stroke-width="1.0" />
<line x1="397.575" y1="67.9" x2="397.575" y2="72.85000000000001" stroke="#e38d1b" stroke-width="1.0" />
<line x1="395.325" y1="67.9" x2="399.825" y2="67.9" stroke="#e38d1b" stroke-width="1.0" />
<line x1="395.325" y1="72.85000000000001" x2="399.825" y2="72.85000000000001" stroke="#e38d1b" stroke-width="1.0" />
<line x1="421.325" y1="126.0625" x2="421.325" y2="139.2625" stroke="#e38d1b" stroke-width="1.0" />
<line x1="419.075" y1="126.0625" x2="423.575" y2="126.0625" stroke="#e38d1b" stroke-width="1.0" />
<line x1="419.075" y1="139.2625" x2="423.575" y2="139.2625" stroke="#e38d1b" stroke-width="1.0" />
<line x1="445.075" y1="146.275" x2="445.075" y2="147.925" stroke="#e38d1b" stroke-width="1.0" />
<line x1="442.825" y1="146.275" x2="447.325" y2="146.275" stroke="#e38d1b" stroke-width="1.0" />
<line x1="442.825" y1="147.925" x2="447.325" y2="147.925" stroke="#e38d1b" stroke-width="1.0" />
<line x1="468.825" y1="146.275" x2="468.825" y2="147.925" stroke="#e38d1b" stroke-width="1.0" />
<line x1="466.575" y1="146.275" x2="471.075" y2="146.275" stroke="#e38d1b" stroke-width="1.0" />
<line x1="466.575" y1="147.925" x2="471.075" y2="147.925" stroke="#e38d1b" stroke-width="1.0" />
<rect x="323.82" y="66.23" width="5" height="5" fill="none" stroke="#e38d1b" stroke-width="1.2"/>
<rect x="347.57" y="66.23" width="5" height="5" fill="none" stroke="#e38d1b" stroke-width="1.2"/>
<rect x="371.32" y="66.23" width="5" height="5" fill="none" stroke="#e38d1b" stroke-width="1.2"/>
<rect x="395.07" y="67.88" width="5" height="5" fill="none" stroke="#e38d1b" stroke-width="1.2"/>
<rect x="418.82" y="130.16" width="5" height="5" fill="none" stroke="#e38d1b" stroke-width="1.2"/>
<rect x="442.57" y="144.60" width="5" height="5" fill="none" stroke="#e38d1b" stroke-width="1.2"/>
<rect x="466.32" y="144.60" width="5" height="5" fill="none" stroke="#e38d1b" stroke-width="1.2"/>
<polyline points="326.32,62.54 328.36,62.54 330.40,62.54 332.43,62.54 334.47,62.54 336.50,62.54 338.54,62.54 340.57,62.54 342.61,62.54 344.65,62.54 346.68,62.54 348.72,62.54 350.75,62.54 352.79,62.54 354.82,62.54 356.86,62.54 358.90,62.54 360.93,62.54 362.97,62.54 365.00,62.55 367.04,62.55 369.07,62.55 371.11,62.56 373.15,62.57 375.18,62.59 377.22,62.62 379.25,62.66 381.29,62.72 383.32,62.80 385.36,62.93 387.40,63.12 389.43,63.40 391.47,63.81 393.50,64.42 395.54,65.30 397.57,66.57 399.61,68.39 401.65,70.94 403.68,74.44 405.72,79.07 407.75,84.95 409.79,92.02 411.82,99.97 413.86,108.29 415.90,116.34 417.93,123.58 419.97,129.67 422.00,134.51 424.04,138.18 426.07,140.88 428.11,142.80 430.15,144.16 432.18,145.09 434.22,145.74 436.25,146.18 438.29,146.48 440.32,146.68 442.36,146.82 444.40,146.91 446.43,146.97 448.47,147.01 450.50,147.04 452.54,147.06 454.57,147.07 456.61,147.08 458.65,147.09 460.68,147.09 462.72,147.09 464.75,147.10 466.79,147.10 468.82,147.10" fill="none" stroke="#a80a32" stroke-width="1.6" stroke-dasharray="5.5,2.5"/>
<line x1="326.325" y1="58.0" x2="326.325" y2="61.30000000000001" stroke="#a80a32" stroke-width="1.0" />
<line x1="324.075" y1="58.0" x2="328.575" y2="58.0" stroke="#a80a32" stroke-width="1.0" />
<line x1="324.075" y1="61.30000000000001" x2="328.575" y2="61.30000000000001" stroke="#a80a32" stroke-width="1.0" />
<line x1="350.075" y1="61.30000000000001" x2="350.075" y2="64.60000000000001" stroke="#a80a32" stroke-width="1.0" />
<line x1="347.825" y1="61.30000000000001" x2="352.325" y2="61.30000000000001" stroke="#a80a32" stroke-width="1.0" />
<line x1="347.825" y1="64.60000000000001" x2="352.325" y2="64.60000000000001" stroke="#a80a32" stroke-width="1.0" />
<line x1="373.825" y1="60.47500000000001" x2="373.825" y2="63.775000000000006" stroke="#a80a32" stroke-width="1.0" />
<line x1="371.575" y1="60.47500000000001" x2="376.075" y2="60.47500000000001" stroke="#a80a32" stroke-width="1.0" />
<line x1="371.575" y1="63.775000000000006" x2="376.075" y2="63.775000000000006" stroke="#a80a32" stroke-width="1.0" />
<line x1="397.575" y1="63.36250000000001" x2="397.575" y2="66.66250000000001" stroke="#a80a32" stroke-width="1.0" />
<line x1="395.325" y1="63.36250000000001" x2="399.825" y2="63.36250000000001" stroke="#a80a32" stroke-width="1.0" />
<line x1="395.325" y1="66.66250000000001" x2="399.825" y2="66.66250000000001" stroke="#a80a32" stroke-width="1.0" />
<line x1="421.325" y1="133.24" x2="421.325" y2="139.84" stroke="#a80a32" stroke-width="1.0" />
<line x1="419.075" y1="133.24" x2="423.575" y2="133.24" stroke="#a80a32" stroke-width="1.0" />
<line x1="419.075" y1="139.84" x2="423.575" y2="139.84" stroke="#a80a32" stroke-width="1.0" />
<line x1="445.075" y1="146.275" x2="445.075" y2="147.925" stroke="#a80a32" stroke-width="1.0" />
<line x1="442.825" y1="146.275" x2="447.325" y2="146.275" stroke="#a80a32" stroke-width="1.0" />
<line x1="442.825" y1="147.925" x2="447.325" y2="147.925" stroke="#a80a32" stroke-width="1.0" />
<line x1="468.825" y1="146.275" x2="468.825" y2="147.925" stroke="#a80a32" stroke-width="1.0" />
<line x1="466.575" y1="146.275" x2="471.075" y2="146.275" stroke="#a80a32" stroke-width="1.0" />
<line x1="466.575" y1="147.925" x2="471.075" y2="147.925" stroke="#a80a32" stroke-width="1.0" />
<circle cx="326.32" cy="59.65" r="2.9" fill="none" stroke="#a80a32" stroke-width="1.3"/>
<circle cx="350.07" cy="62.95" r="2.9" fill="none" stroke="#a80a32" stroke-width="1.3"/>
<circle cx="373.82" cy="62.12" r="2.9" fill="none" stroke="#a80a32" stroke-width="1.3"/>
<circle cx="397.57" cy="65.01" r="2.9" fill="none" stroke="#a80a32" stroke-width="1.3"/>
<circle cx="421.32" cy="136.54" r="2.9" fill="none" stroke="#a80a32" stroke-width="1.3"/>
<circle cx="445.07" cy="147.10" r="2.9" fill="none" stroke="#a80a32" stroke-width="1.3"/>
<circle cx="468.82" cy="147.10" r="2.9" fill="none" stroke="#a80a32" stroke-width="1.3"/>
<polyline points="326.32,74.09 328.36,74.10 330.40,74.10 332.43,74.10 334.47,74.11 336.50,74.12 338.54,74.13 340.57,74.14 342.61,74.16 344.65,74.19 346.68,74.23 348.72,74.29 350.75,74.36 352.79,74.46 354.82,74.59 356.86,74.78 358.90,75.04 360.93,75.38 362.97,75.85 365.00,76.48 367.04,77.34 369.07,78.47 371.11,79.97 373.15,81.92 375.18,84.42 377.22,87.56 379.25,91.39 381.29,95.91 383.32,101.06 385.36,106.65 387.40,112.46 389.43,118.20 391.47,123.60 393.50,128.45 395.54,132.63 397.57,136.11 399.61,138.92 401.65,141.13 403.68,142.84 405.72,144.15 407.75,145.13 409.79,145.87 411.82,146.41 413.86,146.82 415.90,147.11 417.93,147.33 419.97,147.49 422.00,147.61 424.04,147.69 426.07,147.76 428.11,147.80 430.15,147.84 432.18,147.86 434.22,147.88 436.25,147.89 438.29,147.90 440.32,147.91 442.36,147.91 444.40,147.92 446.43,147.92 448.47,147.92 450.50,147.92 452.54,147.92 454.57,147.92 456.61,147.92 458.65,147.92 460.68,147.92 462.72,147.92 464.75,147.92 466.79,147.92 468.82,147.92" fill="none" stroke="#e38d1b" stroke-width="1.6"/>
<line x1="326.325" y1="70.375" x2="326.325" y2="78.625" stroke="#e38d1b" stroke-width="1.0" />
<line x1="324.075" y1="70.375" x2="328.575" y2="70.375" stroke="#e38d1b" stroke-width="1.0" />
<line x1="324.075" y1="78.625" x2="328.575" y2="78.625" stroke="#e38d1b" stroke-width="1.0" />
<line x1="350.075" y1="72.85000000000001" x2="350.075" y2="76.15" stroke="#e38d1b" stroke-width="1.0" />
<line x1="347.825" y1="72.85000000000001" x2="352.325" y2="72.85000000000001" stroke="#e38d1b" stroke-width="1.0" />
<line x1="347.825" y1="76.15" x2="352.325" y2="76.15" stroke="#e38d1b" stroke-width="1.0" />
<line x1="373.825" y1="76.15" x2="373.825" y2="81.10000000000001" stroke="#e38d1b" stroke-width="1.0" />
<line x1="371.575" y1="76.15" x2="376.075" y2="76.15" stroke="#e38d1b" stroke-width="1.0" />
<line x1="371.575" y1="81.10000000000001" x2="376.075" y2="81.10000000000001" stroke="#e38d1b" stroke-width="1.0" />
<line x1="397.575" y1="133.9" x2="397.575" y2="142.15" stroke="#e38d1b" stroke-width="1.0" />
<line x1="395.325" y1="133.9" x2="399.825" y2="133.9" stroke="#e38d1b" stroke-width="1.0" />
<line x1="395.325" y1="142.15" x2="399.825" y2="142.15" stroke="#e38d1b" stroke-width="1.0" />
<line x1="421.325" y1="146.6875" x2="421.325" y2="148.3375" stroke="#e38d1b" stroke-width="1.0" />
<line x1="419.075" y1="146.6875" x2="423.575" y2="146.6875" stroke="#e38d1b" stroke-width="1.0" />
<line x1="419.075" y1="148.3375" x2="423.575" y2="148.3375" stroke="#e38d1b" stroke-width="1.0" />
<line x1="445.075" y1="147.1" x2="445.075" y2="148.75" stroke="#e38d1b" stroke-width="1.0" />
<line x1="442.825" y1="147.1" x2="447.325" y2="147.1" stroke="#e38d1b" stroke-width="1.0" />
<line x1="442.825" y1="148.75" x2="447.325" y2="148.75" stroke="#e38d1b" stroke-width="1.0" />
<line x1="468.825" y1="147.1" x2="468.825" y2="148.75" stroke="#e38d1b" stroke-width="1.0" />
<line x1="466.575" y1="147.1" x2="471.075" y2="147.1" stroke="#e38d1b" stroke-width="1.0" />
<line x1="466.575" y1="148.75" x2="471.075" y2="148.75" stroke="#e38d1b" stroke-width="1.0" />
<rect x="323.62" y="71.80" width="5.4" height="5.4" fill="#e38d1b"/>
<rect x="347.38" y="71.80" width="5.4" height="5.4" fill="#e38d1b"/>
<rect x="371.12" y="75.92" width="5.4" height="5.4" fill="#e38d1b"/>
<rect x="394.88" y="135.33" width="5.4" height="5.4" fill="#e38d1b"/>
<rect x="418.62" y="144.81" width="5.4" height="5.4" fill="#e38d1b"/>
<rect x="442.38" y="145.23" width="5.4" height="5.4" fill="#e38d1b"/>
<rect x="466.12" y="145.23" width="5.4" height="5.4" fill="#e38d1b"/>
<polyline points="326.32,73.27 328.36,73.27 330.40,73.27 332.43,73.28 334.47,73.28 336.50,73.29 338.54,73.30 340.57,73.31 342.61,73.33 344.65,73.35 346.68,73.38 348.72,73.43 350.75,73.49 352.79,73.57 354.82,73.69 356.86,73.84 358.90,74.06 360.93,74.35 362.97,74.74 365.00,75.28 367.04,76.00 369.07,76.96 371.11,78.25 373.15,79.93 375.18,82.11 377.22,84.89 379.25,88.33 381.29,92.47 383.32,97.30 385.36,102.69 387.40,108.44 389.43,114.28 391.47,119.94 393.50,125.16 395.54,129.76 397.57,133.67 399.61,136.88 401.65,139.45 403.68,141.45 405.72,143.00 407.75,144.16 409.79,145.04 411.82,145.69 413.86,146.18 415.90,146.53 417.93,146.80 419.97,146.99 422.00,147.13 424.04,147.23 426.07,147.31 428.11,147.36 430.15,147.40 432.18,147.43 434.22,147.45 436.25,147.47 438.29,147.48 440.32,147.49 442.36,147.50 444.40,147.50 446.43,147.50 448.47,147.51 450.50,147.51 452.54,147.51 454.57,147.51 456.61,147.51 458.65,147.51 460.68,147.51 462.72,147.51 464.75,147.51 466.79,147.51 468.82,147.51" fill="none" stroke="#a80a32" stroke-width="1.6"/>
<line x1="326.325" y1="71.2" x2="326.325" y2="74.5" stroke="#a80a32" stroke-width="1.0" />
<line x1="324.075" y1="71.2" x2="328.575" y2="71.2" stroke="#a80a32" stroke-width="1.0" />
<line x1="324.075" y1="74.5" x2="328.575" y2="74.5" stroke="#a80a32" stroke-width="1.0" />
<line x1="350.075" y1="72.025" x2="350.075" y2="75.325" stroke="#a80a32" stroke-width="1.0" />
<line x1="347.825" y1="72.025" x2="352.325" y2="72.025" stroke="#a80a32" stroke-width="1.0" />
<line x1="347.825" y1="75.325" x2="352.325" y2="75.325" stroke="#a80a32" stroke-width="1.0" />
<line x1="373.825" y1="76.15" x2="373.825" y2="79.45" stroke="#a80a32" stroke-width="1.0" />
<line x1="371.575" y1="76.15" x2="376.075" y2="76.15" stroke="#a80a32" stroke-width="1.0" />
<line x1="371.575" y1="79.45" x2="376.075" y2="79.45" stroke="#a80a32" stroke-width="1.0" />
<line x1="397.575" y1="131.0125" x2="397.575" y2="135.9625" stroke="#a80a32" stroke-width="1.0" />
<line x1="395.325" y1="131.0125" x2="399.825" y2="131.0125" stroke="#a80a32" stroke-width="1.0" />
<line x1="395.325" y1="135.9625" x2="399.825" y2="135.9625" stroke="#a80a32" stroke-width="1.0" />
<line x1="421.325" y1="146.44" x2="421.325" y2="148.09" stroke="#a80a32" stroke-width="1.0" />
<line x1="419.075" y1="146.44" x2="423.575" y2="146.44" stroke="#a80a32" stroke-width="1.0" />
<line x1="419.075" y1="148.09" x2="423.575" y2="148.09" stroke="#a80a32" stroke-width="1.0" />
<line x1="445.075" y1="146.275" x2="445.075" y2="147.925" stroke="#a80a32" stroke-width="1.0" />
<line x1="442.825" y1="146.275" x2="447.325" y2="146.275" stroke="#a80a32" stroke-width="1.0" />
<line x1="442.825" y1="147.925" x2="447.325" y2="147.925" stroke="#a80a32" stroke-width="1.0" />
<line x1="468.825" y1="146.275" x2="468.825" y2="147.925" stroke="#a80a32" stroke-width="1.0" />
<line x1="466.575" y1="146.275" x2="471.075" y2="146.275" stroke="#a80a32" stroke-width="1.0" />
<line x1="466.575" y1="147.925" x2="471.075" y2="147.925" stroke="#a80a32" stroke-width="1.0" />
<circle cx="326.32" cy="72.85" r="3.3" fill="#a80a32"/>
<circle cx="350.07" cy="73.67" r="3.3" fill="#a80a32"/>
<circle cx="373.82" cy="77.80" r="3.3" fill="#a80a32"/>
<circle cx="397.57" cy="133.49" r="3.3" fill="#a80a32"/>
<circle cx="421.32" cy="147.26" r="3.3" fill="#a80a32"/>
<circle cx="445.07" cy="147.10" r="3.3" fill="#a80a32"/>
<circle cx="468.82" cy="147.10" r="3.3" fill="#a80a32"/>
<line x1="431.2" y1="96.3" x2="438.8" y2="96.3" stroke="#a80a32" stroke-width="1.8" />
<text x="443.7" y="99.89999999999999" font-size="10.5" textLength="20" lengthAdjust="spacingAndGlyphs" fill="#000" >CiTE</text>
<line x1="431.2" y1="109.3" x2="438.8" y2="109.3" stroke="#e38d1b" stroke-width="1.8" />
<text x="443.7" y="112.89999999999999" font-size="10.5" textLength="17.5" lengthAdjust="spacingAndGlyphs" fill="#000" >sctb</text>
<line x1="431.2" y1="122.3" x2="438.8" y2="122.3" stroke="#c4c3c8" stroke-width="1.8" />
<text x="443.7" y="125.89999999999999" font-size="10.5" textLength="61" lengthAdjust="spacingAndGlyphs" fill="#000" >specificity ctr</text>
<rect x="57.40" y="239.40" width="12.70" height="7.40" fill="#000"/>
<g clip-path="url(#cl57)"><line x1="53.20" y1="259.80" x2="61.00" y2="251.40" stroke="#000" stroke-width="1.15"/><line x1="57.80" y1="259.80" x2="65.60" y2="251.40" stroke="#000" stroke-width="1.15"/><line x1="62.40" y1="259.80" x2="70.20" y2="251.40" stroke="#000" stroke-width="1.15"/><line x1="67.00" y1="259.80" x2="74.80" y2="251.40" stroke="#000" stroke-width="1.15"/></g>
<text x="75.0" y="246.5" font-size="11" textLength="44.8" lengthAdjust="spacingAndGlyphs" fill="#000" >MOLM-13</text>
<text x="75.0" y="259.1" font-size="11" textLength="74.4" lengthAdjust="spacingAndGlyphs" fill="#000" >MOLM-13:PD-L1</text>
<!--PL C--><text x="0" y="0" font-size="17.5" style="stroke:none" transform="translate(10.10,233.20) scale(0.884,1.037)" dx="-1.00">C</text>
<line x1="59.5" y1="271.25" x2="59.5" y2="377.2" stroke="#000" stroke-width="1.8" />
<line x1="54.0" y1="289.25" x2="59.5" y2="289.25" stroke="#000" stroke-width="1.5" />
<text x="50.3" y="292.85" font-size="10.5" text-anchor="end" fill="#000" >100</text>
<line x1="54.0" y1="332.5" x2="59.5" y2="332.5" stroke="#000" stroke-width="1.5" />
<text x="50.3" y="336.1" font-size="10.5" text-anchor="end" fill="#000" >50</text>
<line x1="54.0" y1="375.75" x2="59.5" y2="375.75" stroke="#000" stroke-width="1.5" />
<text x="50.3" y="379.35" font-size="10.5" text-anchor="end" fill="#000" >0</text>
<rect x="63.00" y="316.93" width="7.80" height="58.82" fill="#a80a32"/>
<rect x="72.60" y="358.45" width="7.80" height="17.30" fill="url(#hR)"/>
<rect x="89.25" y="313.47" width="7.80" height="62.28" fill="#e38d1b"/>
<rect x="98.85" y="362.77" width="7.80" height="12.97" fill="url(#hO)"/>
<rect x="115.50" y="348.07" width="7.80" height="27.68" fill="#2c4b87"/>
<rect x="125.10" y="348.94" width="7.80" height="26.82" fill="url(#hB)"/>
<rect x="141.75" y="277.57" width="7.80" height="98.18" fill="#33674b"/>
<rect x="151.35" y="292.71" width="7.80" height="83.04" fill="url(#hD)"/>
<rect x="168.00" y="285.79" width="7.80" height="89.96" fill="#aabc82"/>
<rect x="177.60" y="339.42" width="7.80" height="36.33" fill="url(#hL)"/>
<rect x="194.25" y="279.74" width="7.80" height="96.02" fill="#c4c3c8"/>
<rect x="203.85" y="287.52" width="7.80" height="88.23" fill="url(#hG)"/>
<line x1="66.9" y1="317.93" x2="66.9" y2="305.685" stroke="#000" stroke-width="1.4" />
<line x1="64.7" y1="305.685" x2="69.10000000000001" y2="305.685" stroke="#000" stroke-width="1.6" />
<line x1="76.5" y1="359.45" x2="76.5" y2="352.395" stroke="#000" stroke-width="1.4" />
<line x1="74.3" y1="352.395" x2="78.7" y2="352.395" stroke="#000" stroke-width="1.6" />
<line x1="93.15" y1="314.47" x2="93.15" y2="303.955" stroke="#000" stroke-width="1.4" />
<line x1="90.95" y1="303.955" x2="95.35000000000001" y2="303.955" stroke="#000" stroke-width="1.6" />
<line x1="102.75" y1="363.775" x2="102.75" y2="358.8825" stroke="#000" stroke-width="1.4" />
<line x1="100.55" y1="358.8825" x2="104.95" y2="358.8825" stroke="#000" stroke-width="1.6" />
<line x1="119.4" y1="349.07" x2="119.4" y2="346.34" stroke="#000" stroke-width="1.4" />
<line x1="117.2" y1="346.34" x2="121.60000000000001" y2="346.34" stroke="#000" stroke-width="1.6" />
<line x1="129.0" y1="349.935" x2="129.0" y2="346.34" stroke="#000" stroke-width="1.4" />
<line x1="126.8" y1="346.34" x2="131.2" y2="346.34" stroke="#000" stroke-width="1.6" />
<line x1="145.65" y1="278.5725" x2="145.65" y2="275.40999999999997" stroke="#000" stroke-width="1.4" />
<line x1="143.45000000000002" y1="275.40999999999997" x2="147.85" y2="275.40999999999997" stroke="#000" stroke-width="1.6" />
<line x1="155.25" y1="293.71000000000004" x2="155.25" y2="290.98" stroke="#000" stroke-width="1.4" />
<line x1="153.05" y1="290.98" x2="157.45" y2="290.98" stroke="#000" stroke-width="1.6" />
<line x1="171.9" y1="286.79" x2="171.9" y2="279.3025" stroke="#000" stroke-width="1.4" />
<line x1="169.70000000000002" y1="279.3025" x2="174.1" y2="279.3025" stroke="#000" stroke-width="1.6" />
<line x1="181.5" y1="340.42" x2="181.5" y2="329.04" stroke="#000" stroke-width="1.4" />
<line x1="179.3" y1="329.04" x2="183.7" y2="329.04" stroke="#000" stroke-width="1.6" />
<line x1="198.15" y1="280.735" x2="198.15" y2="277.14" stroke="#000" stroke-width="1.4" />
<line x1="195.95000000000002" y1="277.14" x2="200.35" y2="277.14" stroke="#000" stroke-width="1.6" />
<line x1="207.75" y1="288.52" x2="207.75" y2="285.79" stroke="#000" stroke-width="1.4" />
<line x1="205.55" y1="285.79" x2="209.95" y2="285.79" stroke="#000" stroke-width="1.6" />
<line x1="58.6" y1="376.2" x2="214.6" y2="376.2" stroke="#000" stroke-width="1.8" />
<line x1="66.25" y1="268.6" x2="75.9" y2="268.6" stroke="#000" stroke-width="1.3" />
<path d="M70.10,262.30v4.6M68.10,263.45l4,2.3M68.10,265.75l4,-2.3" stroke="#111" stroke-width="0.95" fill="none"/>
<line x1="93.2" y1="268.6" x2="102.3" y2="268.6" stroke="#000" stroke-width="1.3" />
<path d="M95.25,262.30v4.6M93.25,263.45l4,2.3M93.25,265.75l4,-2.3" stroke="#111" stroke-width="0.95" fill="none"/>
<path d="M99.75,262.30v4.6M97.75,263.45l4,2.3M97.75,265.75l4,-2.3" stroke="#111" stroke-width="0.95" fill="none"/>
<line x1="145" y1="269.7" x2="154.6" y2="269.7" stroke="#000" stroke-width="1.3" />
<path d="M147.35,263.40v4.6M145.35,264.55l4,2.3M145.35,266.85l4,-2.3" stroke="#111" stroke-width="0.95" fill="none"/>
<path d="M151.85,263.40v4.6M149.85,264.55l4,2.3M149.85,266.85l4,-2.3" stroke="#111" stroke-width="0.95" fill="none"/>
<line x1="171.7" y1="269.7" x2="181.3" y2="269.7" stroke="#000" stroke-width="1.3" />
<path d="M174.25,263.40v4.6M172.25,264.55l4,2.3M172.25,266.85l4,-2.3" stroke="#111" stroke-width="0.95" fill="none"/>
<path d="M178.75,263.40v4.6M176.75,264.55l4,2.3M176.75,266.85l4,-2.3" stroke="#111" stroke-width="0.95" fill="none"/>
<text x="0" y="0" font-size="13.5" text-anchor="middle" textLength="80" lengthAdjust="spacingAndGlyphs" fill="#000" transform="translate(20.6,325) rotate(-90)">% target cells</text>
<text x="0" y="0" font-size="12" text-anchor="end" textLength="21" lengthAdjust="spacingAndGlyphs" transform="translate(75.20,389.00) rotate(-35)">CiTE</text>
<text x="0" y="0" font-size="12" text-anchor="end" textLength="21.2" lengthAdjust="spacingAndGlyphs" transform="translate(101.70,389.00) rotate(-35)">sctb</text>
<text x="0" y="0" font-size="12" text-anchor="end" textLength="41.4" lengthAdjust="spacingAndGlyphs" transform="translate(128.20,389.00) rotate(-35)">BiTE-like</text>
<text x="0" y="0" font-size="12" text-anchor="end" textLength="62.4" lengthAdjust="spacingAndGlyphs" transform="translate(154.70,389.00) rotate(-35)">PD-1<tspan font-size="8.6" dy="2.4"> ex·</tspan><tspan dy="-2.4">αCD3</tspan></text>
<text x="0" y="0" font-size="12" text-anchor="end" textLength="67.9" lengthAdjust="spacingAndGlyphs" transform="translate(181.20,389.00) rotate(-35)">αPD-L1.αCD3</text>
<text x="0" y="0" font-size="12" text-anchor="end" textLength="65.8" lengthAdjust="spacingAndGlyphs" transform="translate(207.70,389.00) rotate(-35)">specificity ctr</text>
<rect x="307.50" y="239.40" width="12.70" height="7.40" fill="#000"/>
<g clip-path="url(#cl307)"><line x1="303.30" y1="259.80" x2="311.10" y2="251.40" stroke="#000" stroke-width="1.15"/><line x1="307.90" y1="259.80" x2="315.70" y2="251.40" stroke="#000" stroke-width="1.15"/><line x1="312.50" y1="259.80" x2="320.30" y2="251.40" stroke="#000" stroke-width="1.15"/><line x1="317.10" y1="259.80" x2="324.90" y2="251.40" stroke="#000" stroke-width="1.15"/></g>
<text x="325.1" y="246.5" font-size="11" textLength="47" lengthAdjust="spacingAndGlyphs" fill="#000" >OCI-AML3</text>
<text x="325.1" y="259.1" font-size="11" textLength="77" lengthAdjust="spacingAndGlyphs" fill="#000" >OCI-AML3:PD-L1</text>
<!--PL D--><text x="0" y="0" font-size="17.5" style="stroke:none" transform="translate(253.10,232.60) scale(0.956,0.963)" dx="-1.50">D</text>
<line x1="309.5" y1="270.6" x2="309.5" y2="377.3" stroke="#000" stroke-width="1.8" />
<line x1="304.0" y1="283.7" x2="309.5" y2="283.7" stroke="#000" stroke-width="1.5" />
<text x="300.3" y="287.3" font-size="10.5" text-anchor="end" fill="#000" >100</text>
<line x1="304.0" y1="330.35" x2="309.5" y2="330.35" stroke="#000" stroke-width="1.5" />
<text x="300.3" y="333.95000000000005" font-size="10.5" text-anchor="end" fill="#000" >50</text>
<line x1="304.0" y1="377.0" x2="309.5" y2="377.0" stroke="#000" stroke-width="1.5" />
<text x="300.3" y="380.6" font-size="10.5" text-anchor="end" fill="#000" >0</text>
<rect x="313.75" y="282.02" width="8.00" height="94.98" fill="#a80a32"/>
<rect x="323.75" y="358.34" width="8.00" height="18.66" fill="url(#hR)"/>
<rect x="340.40" y="286.97" width="8.00" height="90.03" fill="#e38d1b"/>
<rect x="350.40" y="362.54" width="8.00" height="14.46" fill="url(#hO)"/>
<rect x="367.00" y="291.16" width="8.00" height="85.84" fill="#2c4b87"/>
<rect x="377.00" y="291.72" width="8.00" height="85.28" fill="url(#hB)"/>
<rect x="393.60" y="279.97" width="8.00" height="97.03" fill="#33674b"/>
<rect x="403.60" y="285.75" width="8.00" height="91.25" fill="url(#hD)"/>
<rect x="420.20" y="286.97" width="8.00" height="90.03" fill="#aabc82"/>
<rect x="430.20" y="360.02" width="8.00" height="16.98" fill="url(#hL)"/>
<rect x="446.50" y="281.83" width="8.00" height="95.17" fill="#c4c3c8"/>
<rect x="456.50" y="286.97" width="8.00" height="90.03" fill="url(#hG)"/>
<line x1="317.75" y1="283.0206" x2="317.75" y2="279.50149999999996" stroke="#000" stroke-width="1.4" />
<line x1="315.55" y1="279.50149999999996" x2="319.95" y2="279.50149999999996" stroke="#000" stroke-width="1.6" />
<line x1="327.75" y1="359.34" x2="327.75" y2="355.541" stroke="#000" stroke-width="1.4" />
<line x1="325.55" y1="355.541" x2="329.95" y2="355.541" stroke="#000" stroke-width="1.6" />
<line x1="344.4" y1="287.9655" x2="344.4" y2="283.0469" stroke="#000" stroke-width="1.4" />
<line x1="342.2" y1="283.0469" x2="346.59999999999997" y2="283.0469" stroke="#000" stroke-width="1.6" />
<line x1="354.4" y1="363.5385" x2="354.4" y2="356.0075" stroke="#000" stroke-width="1.4" />
<line x1="352.2" y1="356.0075" x2="356.59999999999997" y2="356.0075" stroke="#000" stroke-width="1.6" />
<line x1="371.0" y1="292.164" x2="371.0" y2="288.365" stroke="#000" stroke-width="1.4" />
<line x1="368.8" y1="288.365" x2="373.2" y2="288.365" stroke="#000" stroke-width="1.6" />
<line x1="381.0" y1="292.7238" x2="381.0" y2="287.432" stroke="#000" stroke-width="1.4" />
<line x1="378.8" y1="287.432" x2="383.2" y2="287.432" stroke="#000" stroke-width="1.6" />
<line x1="397.6" y1="280.96799999999996" x2="397.6" y2="276.7025" stroke="#000" stroke-width="1.4" />
<line x1="395.40000000000003" y1="276.7025" x2="399.8" y2="276.7025" stroke="#000" stroke-width="1.6" />
<line x1="407.6" y1="286.75260000000003" x2="407.6" y2="284.7263" stroke="#000" stroke-width="1.4" />
<line x1="405.40000000000003" y1="284.7263" x2="409.8" y2="284.7263" stroke="#000" stroke-width="1.6" />
<line x1="424.2" y1="287.9655" x2="424.2" y2="283.2335" stroke="#000" stroke-width="1.4" />
<line x1="422.0" y1="283.2335" x2="426.4" y2="283.2335" stroke="#000" stroke-width="1.6" />
<line x1="434.2" y1="361.0194" x2="434.2" y2="359.4596" stroke="#000" stroke-width="1.4" />
<line x1="432.0" y1="359.4596" x2="436.4" y2="359.4596" stroke="#000" stroke-width="1.6" />
<line x1="450.5" y1="282.834" x2="450.5" y2="279.22159999999997" stroke="#000" stroke-width="1.4" />
<line x1="448.3" y1="279.22159999999997" x2="452.7" y2="279.22159999999997" stroke="#000" stroke-width="1.6" />
<line x1="460.5" y1="287.9655" x2="460.5" y2="283.7" stroke="#000" stroke-width="1.4" />
<line x1="458.3" y1="283.7" x2="462.7" y2="283.7" stroke="#000" stroke-width="1.6" />
<line x1="308.6" y1="376.3" x2="467" y2="376.3" stroke="#000" stroke-width="1.8" />
<line x1="318" y1="272" x2="327.9" y2="272" stroke="#000" stroke-width="1.3" />
<path d="M318.80,265.70v4.6M316.80,266.85l4,2.3M316.80,269.15l4,-2.3" stroke="#111" stroke-width="0.95" fill="none"/>
<path d="M323.30,265.70v4.6M321.30,266.85l4,2.3M321.30,269.15l4,-2.3" stroke="#111" stroke-width="0.95" fill="none"/>
<path d="M327.80,265.70v4.6M325.80,266.85l4,2.3M325.80,269.15l4,-2.3" stroke="#111" stroke-width="0.95" fill="none"/>
<line x1="345.7" y1="272" x2="355.75" y2="272" stroke="#000" stroke-width="1.3" />
<path d="M346.20,265.70v4.6M344.20,266.85l4,2.3M344.20,269.15l4,-2.3" stroke="#111" stroke-width="0.95" fill="none"/>
<path d="M350.70,265.70v4.6M348.70,266.85l4,2.3M348.70,269.15l4,-2.3" stroke="#111" stroke-width="0.95" fill="none"/>
<path d="M355.20,265.70v4.6M353.20,266.85l4,2.3M353.20,269.15l4,-2.3" stroke="#111" stroke-width="0.95" fill="none"/>
<line x1="424.2" y1="272.1" x2="434.6" y2="272.1" stroke="#000" stroke-width="1.3" />
<path d="M425.20,265.80v4.6M423.20,266.95l4,2.3M423.20,269.25l4,-2.3" stroke="#111" stroke-width="0.95" fill="none"/>
<path d="M429.70,265.80v4.6M427.70,266.95l4,2.3M427.70,269.25l4,-2.3" stroke="#111" stroke-width="0.95" fill="none"/>
<path d="M434.20,265.80v4.6M432.20,266.95l4,2.3M432.20,269.25l4,-2.3" stroke="#111" stroke-width="0.95" fill="none"/>
<text x="0" y="0" font-size="13.5" text-anchor="middle" textLength="80" lengthAdjust="spacingAndGlyphs" fill="#000" transform="translate(270.6,324) rotate(-90)">% target cells</text>
<text x="0" y="0" font-size="12" text-anchor="end" textLength="21" lengthAdjust="spacingAndGlyphs" transform="translate(326.70,388.50) rotate(-35)">CiTE</text>
<text x="0" y="0" font-size="12" text-anchor="end" textLength="21.2" lengthAdjust="spacingAndGlyphs" transform="translate(353.45,388.50) rotate(-35)">sctb</text>
<text x="0" y="0" font-size="12" text-anchor="end" textLength="41.4" lengthAdjust="spacingAndGlyphs" transform="translate(380.20,388.50) rotate(-35)">BiTE-like</text>
<text x="0" y="0" font-size="12" text-anchor="end" textLength="62.4" lengthAdjust="spacingAndGlyphs" transform="translate(406.95,388.50) rotate(-35)">PD-1<tspan font-size="8.6" dy="2.4"> ex·</tspan><tspan dy="-2.4">αCD3</tspan></text>
<text x="0" y="0" font-size="12" text-anchor="end" textLength="67.9" lengthAdjust="spacingAndGlyphs" transform="translate(433.70,388.50) rotate(-35)">αPD-L1.αCD3</text>
<text x="0" y="0" font-size="12" text-anchor="end" textLength="65.8" lengthAdjust="spacingAndGlyphs" transform="translate(460.45,388.50) rotate(-35)">specificity ctr</text>
<text x="74" y="486.9" font-size="14" textLength="98" lengthAdjust="spacingAndGlyphs" fill="#000" >MOLM-13:PD-L1</text>
<!--PL E--><text x="0" y="0" font-size="17.5" style="stroke:none" transform="translate(11.90,473.10) scale(0.726,1.004)" dx="-1.50">E</text>
<line x1="59.4" y1="495.7" x2="59.4" y2="592.0" stroke="#000" stroke-width="1.8" />
<line x1="53.9" y1="500.4" x2="59.4" y2="500.4" stroke="#000" stroke-width="1.5" />
<text x="50.3" y="504.0" font-size="10.5" text-anchor="end" fill="#000" >100</text>
<line x1="53.9" y1="545.7" x2="59.4" y2="545.7" stroke="#000" stroke-width="1.5" />
<text x="50.3" y="549.3000000000001" font-size="10.5" text-anchor="end" fill="#000" >50</text>
<line x1="53.9" y1="591.0" x2="59.4" y2="591.0" stroke="#000" stroke-width="1.5" />
<text x="50.3" y="594.6" font-size="10.5" text-anchor="end" fill="#000" >0</text>
<rect x="62.10" y="562.01" width="14.40" height="28.99" fill="#a80a32"/>
<rect x="88.60" y="562.55" width="14.40" height="28.45" fill="#e38d1b"/>
<rect x="115.20" y="547.60" width="14.40" height="43.40" fill="#2c4b87"/>
<rect x="141.90" y="557.12" width="14.40" height="33.88" fill="#66ace2"/>
<rect x="168.60" y="517.25" width="14.40" height="73.75" fill="#c4c3c8"/>
<line x1="69.3" y1="563.008" x2="69.3" y2="555.0318" stroke="#000" stroke-width="1.4" />
<line x1="66.2" y1="555.0318" x2="72.39999999999999" y2="555.0318" stroke="#000" stroke-width="1.6" />
<line x1="95.8" y1="563.5516" x2="95.8" y2="555.0318" stroke="#000" stroke-width="1.4" />
<line x1="92.7" y1="555.0318" x2="98.89999999999999" y2="555.0318" stroke="#000" stroke-width="1.6" />
<line x1="122.4" y1="548.6026" x2="122.4" y2="541.8948" stroke="#000" stroke-width="1.4" />
<line x1="119.30000000000001" y1="541.8948" x2="125.5" y2="541.8948" stroke="#000" stroke-width="1.6" />
<line x1="149.1" y1="558.1156" x2="149.1" y2="548.1462" stroke="#000" stroke-width="1.4" />
<line x1="146.0" y1="548.1462" x2="152.2" y2="548.1462" stroke="#000" stroke-width="1.6" />
<line x1="175.79999999999998" y1="518.2516" x2="175.79999999999998" y2="504.2052" stroke="#000" stroke-width="1.4" />
<line x1="172.7" y1="504.2052" x2="178.89999999999998" y2="504.2052" stroke="#000" stroke-width="1.6" />
<line x1="58.5" y1="591.0" x2="187.3" y2="591.0" stroke="#000" stroke-width="1.8" />
<line x1="68.8" y1="506.2" x2="123.2" y2="506.2" stroke="#000" stroke-width="1.3" />
<path d="M95.70,499.90v4.6M93.70,501.05l4,2.3M93.70,503.35l4,-2.3" stroke="#111" stroke-width="0.95" fill="none"/>
<line x1="95.8" y1="516.1" x2="123.2" y2="516.1" stroke="#000" stroke-width="1.3" />
<path d="M110.30,509.80v4.6M108.30,510.95l4,2.3M108.30,513.25l4,-2.3" stroke="#111" stroke-width="0.95" fill="none"/>
<text x="0" y="0" font-size="13.5" text-anchor="middle" textLength="80" lengthAdjust="spacingAndGlyphs" fill="#000" transform="translate(20.6,545.2) rotate(-90)">% target cells</text>
<text x="0" y="0" font-size="12" text-anchor="end" textLength="21" lengthAdjust="spacingAndGlyphs" transform="translate(73.40,604.60) rotate(-35)">CiTE</text>
<text x="0" y="0" font-size="12" text-anchor="end" textLength="21.2" lengthAdjust="spacingAndGlyphs" transform="translate(100.40,604.60) rotate(-35)">sctb</text>
<text x="0" y="0" font-size="12" text-anchor="end" textLength="41.4" lengthAdjust="spacingAndGlyphs" transform="translate(127.40,604.60) rotate(-35)">BiTE-like</text>
<text x="0" y="0" font-size="12" text-anchor="end" textLength="118.5" lengthAdjust="spacingAndGlyphs" transform="translate(154.40,604.60) rotate(-35)">BiTE-like + αPD-L1 mAB</text>
<text x="0" y="0" font-size="12" text-anchor="end" textLength="68.2" lengthAdjust="spacingAndGlyphs" transform="translate(181.40,604.60) rotate(-35)">specificity ctr</text>
<text x="318.7" y="486.9" font-size="14" textLength="110.8" lengthAdjust="spacingAndGlyphs" fill="#000" >BA/F3:CD33:PD-L1</text>
<!--PL F--><text x="0" y="0" font-size="17.5" style="stroke:none" transform="translate(256.00,472.80) scale(0.741,0.963)" dx="-1.50">F</text>
<line x1="309.4" y1="500.4" x2="309.4" y2="591.8" stroke="#000" stroke-width="1.8" />
<line x1="303.9" y1="506.29999999999995" x2="309.4" y2="506.29999999999995" stroke="#000" stroke-width="1.5" />
<text x="300.3" y="509.9" font-size="10.5" text-anchor="end" fill="#000" >100</text>
<line x1="303.9" y1="548.8" x2="309.4" y2="548.8" stroke="#000" stroke-width="1.5" />
<text x="300.3" y="552.4" font-size="10.5" text-anchor="end" fill="#000" >50</text>
<line x1="303.9" y1="591.3" x2="309.4" y2="591.3" stroke="#000" stroke-width="1.5" />
<text x="300.3" y="594.9" font-size="10.5" text-anchor="end" fill="#000" >0</text>
<rect x="312.10" y="575.83" width="14.60" height="15.47" fill="#a80a32"/>
<rect x="339.00" y="577.87" width="14.60" height="13.43" fill="#e38d1b"/>
<rect x="366.00" y="551.01" width="14.60" height="40.29" fill="#2c4b87"/>
<rect x="392.90" y="552.12" width="14.60" height="39.19" fill="#66ace2"/>
<rect x="419.80" y="510.29" width="14.60" height="81.00" fill="#c4c3c8"/>
<line x1="319.40000000000003" y1="576.8299999999999" x2="319.40000000000003" y2="574.385" stroke="#000" stroke-width="1.4" />
<line x1="316.3" y1="574.385" x2="322.50000000000006" y2="574.385" stroke="#000" stroke-width="1.6" />
<line x1="346.3" y1="578.87" x2="346.3" y2="576.5949999999999" stroke="#000" stroke-width="1.4" />
<line x1="343.2" y1="576.5949999999999" x2="349.40000000000003" y2="576.5949999999999" stroke="#000" stroke-width="1.6" />
<line x1="373.3" y1="552.01" x2="373.3" y2="546.25" stroke="#000" stroke-width="1.4" />
<line x1="370.2" y1="546.25" x2="376.40000000000003" y2="546.25" stroke="#000" stroke-width="1.6" />
<line x1="400.2" y1="553.115" x2="400.2" y2="546.25" stroke="#000" stroke-width="1.4" />
<line x1="397.09999999999997" y1="546.25" x2="403.3" y2="546.25" stroke="#000" stroke-width="1.6" />
<line x1="427.1" y1="511.29499999999996" x2="427.1" y2="509.02" stroke="#000" stroke-width="1.4" />
<line x1="424.0" y1="509.02" x2="430.20000000000005" y2="509.02" stroke="#000" stroke-width="1.6" />
<line x1="308.5" y1="590.8" x2="438.7" y2="590.8" stroke="#000" stroke-width="1.8" />
<line x1="320.2" y1="515.7" x2="373.2" y2="515.7" stroke="#000" stroke-width="1.3" />
<path d="M346.70,509.40v4.6M344.70,510.55l4,2.3M344.70,512.85l4,-2.3" stroke="#111" stroke-width="0.95" fill="none"/>
<line x1="347.1" y1="526.5" x2="373.2" y2="526.5" stroke="#000" stroke-width="1.3" />
<path d="M360.50,520.20v4.6M358.50,521.35l4,2.3M358.50,523.65l4,-2.3" stroke="#111" stroke-width="0.95" fill="none"/>
<text x="0" y="0" font-size="13.5" text-anchor="middle" textLength="80" lengthAdjust="spacingAndGlyphs" fill="#000" transform="translate(270.6,545.2) rotate(-90)">% target cells</text>
<text x="0" y="0" font-size="12" text-anchor="end" textLength="21" lengthAdjust="spacingAndGlyphs" transform="translate(322.80,604.60) rotate(-35)">CiTE</text>
<text x="0" y="0" font-size="12" text-anchor="end" textLength="21.2" lengthAdjust="spacingAndGlyphs" transform="translate(350.40,604.60) rotate(-35)">sctb</text>
<text x="0" y="0" font-size="12" text-anchor="end" textLength="41.4" lengthAdjust="spacingAndGlyphs" transform="translate(378.00,604.60) rotate(-35)">BiTE-like</text>
<text x="0" y="0" font-size="12" text-anchor="end" textLength="118.5" lengthAdjust="spacingAndGlyphs" transform="translate(405.60,604.60) rotate(-35)">BiTE-like + αPD-L1 mAB</text>
<text x="0" y="0" font-size="12" text-anchor="end" textLength="68.2" lengthAdjust="spacingAndGlyphs" transform="translate(433.20,604.60) rotate(-35)">specificity ctr</text>
<rect x="1" y="0.9" width="518" height="695" fill="none" stroke="#000" stroke-width="2"/></svg>
</body></html>
